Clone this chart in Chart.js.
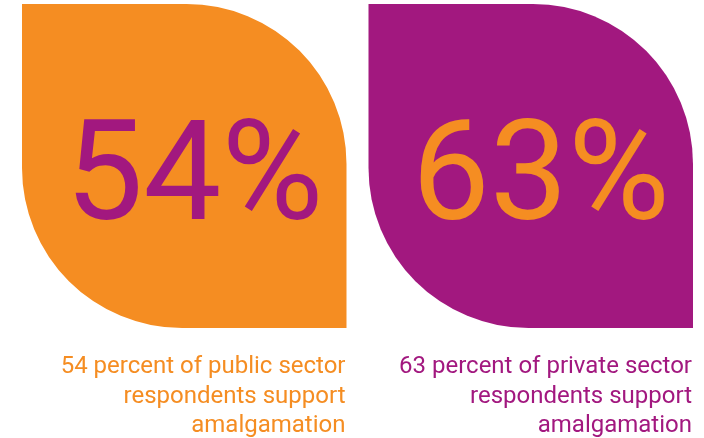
<!DOCTYPE html>
<html>
<head>
<meta charset="utf-8">
<script src="https://cdn.jsdelivr.net/npm/chart.js@4/dist/chart.umd.min.js"></script>
<style>
  html, body { margin: 0; padding: 0; background: #ffffff; }
  #wrap { width: 704px; height: 438px; }
</style>
</head>
<body>
<div id="wrap"><canvas id="c" width="704" height="438"></canvas></div>
<script>
// Survey groups and the share of each that supports amalgamation
const sectors = ['Public sector', 'Private sector'];
const supportPct = [54, 63];
// Every tile stands for the whole group of respondents (100%)
const groupTotal = [100, 100];
const captionLines = [
  ['54 percent of public sector', 'respondents support', 'amalgamation'],
  ['63 percent of private sector', 'respondents support', 'amalgamation']
];

const ORANGE = '#F58D22';
const PURPLE = '#A2187F';
const tileColors = [ORANGE, PURPLE];
const textColors = [PURPLE, ORANGE];

// Writes the big percentage inside each tile and the caption beneath it
const tileText = {
  id: 'tileText',
  afterDatasetsDraw(chart) {
    const ctx = chart.ctx;
    const meta = chart.getDatasetMeta(0);
    meta.data.forEach((bar, i) => {
      const p = bar.getProps(['x', 'y', 'base', 'width'], true);
      const right = p.x + p.width / 2;
      const midY = (p.y + p.base) / 2;

      ctx.save();
      ctx.fillStyle = textColors[i];
      ctx.font = '400 139px Roboto, "Liberation Sans", sans-serif';
      ctx.textAlign = 'center';
      ctx.textBaseline = 'alphabetic';
      ctx.fillText(supportPct[i] + '%', p.x + 10, midY + 53);

      ctx.fillStyle = tileColors[i];
      ctx.font = '400 24px Roboto, "Liberation Sans", sans-serif';
      ctx.textAlign = 'right';
      const offsets = [45, 75, 104];
      captionLines[i].forEach((line, k) => {
        ctx.fillText(line, right - 1, p.base + offsets[k]);
      });
      ctx.restore();
    });
  }
};

new Chart(document.getElementById('c'), {
  type: 'bar',
  data: {
    labels: sectors,
    datasets: [{
      data: groupTotal,
      backgroundColor: tileColors,
      borderWidth: 0,
      borderSkipped: false,
      borderRadius: { topLeft: 0, topRight: 160, bottomLeft: 160, bottomRight: 0 },
      barPercentage: 1,
      categoryPercentage: 0.9365
    }]
  },
  options: {
    responsive: false,
    devicePixelRatio: 1,
    animation: false,
    layout: { padding: { left: 11, right: 0, top: 4, bottom: 110 } },
    scales: {
      x: { display: false },
      y: { display: false, min: 0, max: 100 }
    },
    plugins: {
      legend: { display: false },
      tooltip: { enabled: false },
      title: { display: false }
    }
  },
  plugins: [tileText]
});
</script>
</body>
</html>
